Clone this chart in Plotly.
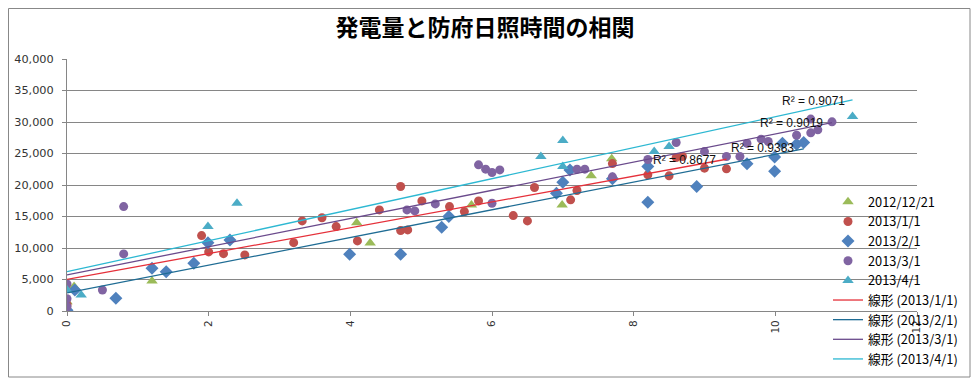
import numpy as np
import plotly.graph_objects as go

# ---- data (x: 防府日照時間, y: 発電量) ----
green_x = [0, 0.1, 1.2, 4.09, 4.28, 5.71, 6.99, 7.4, 7.69]
green_y = [1480, 3900, 4770, 14000, 10800, 16840, 16840, 21450, 24150]

red_x = [0, 1.9, 2.0, 2.21, 2.51, 3.2, 3.32, 3.6, 3.8, 4.1, 4.41, 4.71, 4.71, 4.81, 5.01,
         5.4, 5.61, 5.81, 6.3, 6.5, 6.6, 7.11, 7.2, 7.7, 8.2, 8.5, 8.6, 8.69, 9.0, 9.31]
red_y = [1000, 11970, 9380, 9100, 8900, 10850, 14300, 14800, 13400, 11120, 16050, 19760, 12760, 12870, 17480,
         16570, 15780, 17480, 15150, 14300, 19600, 17640, 19120, 23400, 21610, 21450, 24360, 24520, 22670, 22560]

blue_x = [0, 0.11, 0.69, 1.2, 1.4, 1.79, 1.99, 2.3, 3.99, 4.71, 5.29, 5.39, 6.91, 7.0, 7.1,
          7.7, 8.2, 8.2, 8.89, 9.6, 9.99, 9.99, 10.1, 10.3, 10.4]
blue_y = [100, 3340, 2010, 6780, 6250, 7570, 10850, 11280, 9000, 9000, 13300, 14990, 18700, 20450, 22400,
          21000, 17270, 22930, 19760, 23360, 24440, 22200, 26640, 26450, 26750]

purple_x = [0, 0, 0, 0.5, 0.8, 0.8, 4.8, 4.91, 5.2, 5.81, 5.91, 6.0, 6.11, 6.0, 7.2,
            7.31, 7.7, 8.2, 8.6, 9.0, 9.31, 9.5, 9.6, 9.8, 9.9, 10.3, 10.5, 10.5, 10.6, 10.8]
purple_y = [4290, 1950, 680, 3340, 16570, 9060, 16050, 15890, 17000, 23200, 22510, 21980, 22400, 17100, 22510,
            22510, 21300, 24040, 26750, 25300, 24520, 24520, 26600, 27280, 26900, 27900, 30460, 28280, 28760, 30030]

teal_x = [0, 0.2, 1.99, 2.4, 6.69, 7.0, 7.0, 8.29, 8.5, 11.09]
teal_y = [3340, 2540, 13400, 17110, 24520, 27060, 22930, 25310, 26110, 30880]

series_names = ["2012/12/21", "2013/1/1", "2013/2/1", "2013/3/1", "2013/4/1"]
r2_labels = ["R² = 0.8677", "R² = 0.9383", "R² = 0.9019", "R² = 0.9071"]
y_ticks = [0, 5000, 10000, 15000, 20000, 25000, 30000, 35000, 40000]
x_ticks = [0, 2, 4, 6, 8, 10, 12]

title_text = "発電量と防府日照時間の相関"

# ---- styles ----
marker_cols = ["#9BBB59", "#C0504D", "#4F81BD", "#8064A2", "#4BACC6"]
symbols = ["triangle-up", "circle", "diamond", "circle", "triangle-up"]
sizes = [10, 9, 10, 9, 10]
line_cols = ["#E5303A", "#1F6C94", "#6A4A8C", "#2DB8D2"]

W, H = 963, 376
L, T, B = 59, 51, 73
PW = 850
R = W - L - PW
PH = H - T - B

fig = go.Figure()
data = [(green_x, green_y), (red_x, red_y), (blue_x, blue_y), (purple_x, purple_y), (teal_x, teal_y)]
for (xs, ys), nm, c, s, sz in zip(data, series_names, marker_cols, symbols, sizes):
    fig.add_trace(go.Scatter(x=xs, y=ys, mode="markers", name=nm,
                             marker=dict(color=c, symbol=s, size=sz, line=dict(width=0))))

# linear trendlines (fitted from the data)
for (xs, ys), nm, c in zip(data[1:], series_names[1:], line_cols):
    k, b = np.polyfit(xs, ys, 1)
    xx = np.array([min(xs), max(xs)])
    fig.add_trace(go.Scatter(x=xx, y=k * xx + b, mode="lines", name=f"線形 ({nm})",
                             line=dict(color=c, width=1.3)))

# R² annotations
r2_pos = [(8.25, 23990), (9.35, 25900), (9.76, 29870), (10.06, 33370)]
for txt, (ax, ay) in zip(r2_labels, r2_pos):
    fig.add_annotation(x=ax, y=ay, text=txt, showarrow=False, xanchor="left", yanchor="middle",
                       font=dict(family="Liberation Sans, Arial", size=12, color="#111"))

fig.update_layout(
    width=W, height=H,
    margin=dict(l=L, r=R, t=T, b=B, autoexpand=False),
    paper_bgcolor="white", plot_bgcolor="white",
    title=dict(text=f"<b>{title_text}</b>", x=477 / W, xanchor="center", y=1 - 20 / H, yanchor="middle",
               font=dict(family="Noto Sans CJK JP", size=23, color="#000")),
    legend=dict(x=(820 - L) / PW, y=1 - 179 / H, yref="container", xanchor="left", yanchor="top",
                bgcolor="rgba(0,0,0,0)",
                font=dict(family="Noto Sans CJK JP", size=12.8, color="#000"),
                tracegroupgap=0, itemwidth=30),
    showlegend=True,
    shapes=[dict(type="rect", xref="paper", yref="paper",
                 x0=(0.5 - L) / PW, x1=(962 - L) / PW, y0=(PH + T - 369) / PH, y1=(PH + T - 0.5) / PH,
                 line=dict(color="#888", width=1), fillcolor="rgba(0,0,0,0)", layer="below")],
)
fig.update_xaxes(range=[0, 12], tickvals=x_ticks, tickangle=-90, showgrid=False, zeroline=False,
                 showline=True, linecolor="#868686", linewidth=1, ticks="outside", ticklen=4,
                 tickcolor="#868686", tickfont=dict(family="DejaVu Sans", size=10.5, color="#333"))
fig.update_yaxes(range=[0, 40000], tickvals=y_ticks, tickformat=",", showgrid=True, gridcolor="#868686",
                 gridwidth=1, zeroline=False, showline=True, linecolor="#868686", ticks="outside",
                 ticklen=4, tickcolor="#868686", ticklabelstandoff=6,
                 tickfont=dict(family="DejaVu Sans", size=11.3, color="#333"))

fig.write_html("out.html")
